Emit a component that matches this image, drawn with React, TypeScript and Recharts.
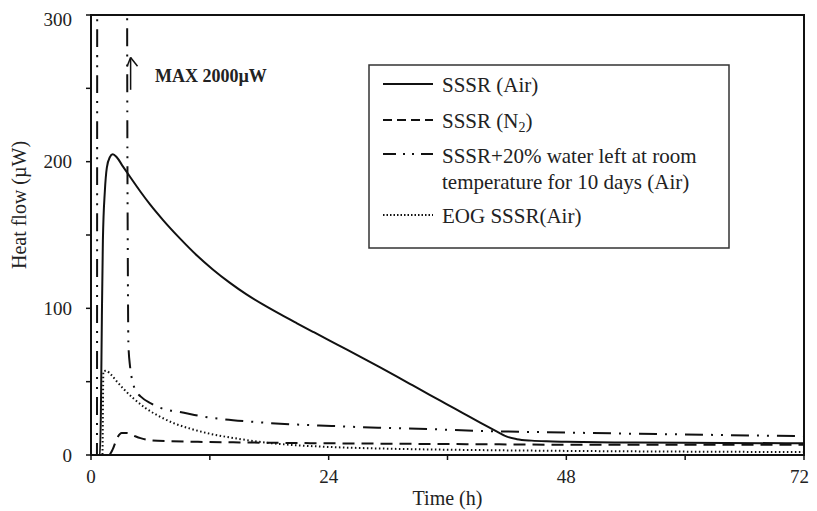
import React from 'react';
import {
  LineChart,
  Line,
  XAxis,
  YAxis,
  Legend,
  ReferenceArea,
  ReferenceLine,
  ReferenceDot
} from 'recharts';

// time (h) / heat flow (µW) pairs
const airTime = [0, 0.9, 1.0, 1.1, 1.2, 1.4, 1.6, 1.9, 2.2, 2.6, 3.2, 3.94, 5, 6, 7.3, 9, 10.7, 12.3, 14, 15.7, 17.4, 19.1, 20.8, 22.5, 24.1, 25.8, 27.5, 29.2, 30.9, 32.5, 34.2, 35.9, 37.6, 39.3, 41, 42, 43, 44.5, 46, 48, 55, 60, 72];
const airFlow = [0, 0, 30, 95, 146, 180, 196, 203, 205, 203, 197, 189.7, 179.5, 170.5, 160, 147.5, 136, 126.5, 117.5, 109.5, 102.5, 96, 89.8, 83.7, 78, 72, 65.9, 59.7, 53.4, 47.4, 41, 34.7, 28.4, 22.1, 16, 12.5, 10.8, 9.8, 9.3, 9, 8.5, 8.3, 8];

const n2Time = [0, 1.8, 2.2, 2.6, 3.1, 3.6, 4.2, 5, 6.1, 8, 10.8, 15, 20, 30, 40, 48, 60, 72];
const n2Flow = [0, 0, 4, 11, 15, 15, 13.5, 11.5, 10, 9.4, 9, 8.6, 8.2, 7.7, 7.3, 7, 7, 7];

const waterTime = [0, 0.6, 0.7, 3.55, 3.65, 3.72, 3.78, 3.95, 4.2, 4.5, 5, 6.1, 7.5, 8.8, 11.5, 16.2, 20, 24.3, 29, 34, 40, 48, 55, 60, 72];
const waterFlow = [0, 0, 2000, 2000, 300, 130, 75, 60, 50, 44, 40, 35, 31, 29.5, 26, 22.7, 21, 19.8, 18.6, 17.7, 16.3, 15.3, 14.5, 14, 12.8];

const eogTime = [0, 1.15, 1.25, 1.5, 2, 2.5, 3.4, 4.3, 5.5, 7, 8.5, 10, 12, 14, 17, 18, 20, 24, 30, 40, 48, 60, 72];
const eogFlow = [0, 0, 57, 57.5, 55, 51, 44.3, 38.5, 32, 26, 21.3, 18, 14.5, 12, 9, 8.2, 7, 5.5, 4.3, 3.3, 2.8, 2.3, 2];

const xTicks = [0, 12, 24, 36, 48, 60, 72];
const yTicks = [0, 50, 100, 150, 200, 250, 300];

const toPoints = (t: number[], v: number[]) => t.map((x, i) => ({ t: x, v: v[i] }));

const FONT = '"Liberation Serif", "Times New Roman", serif';
const INK = '#111';

const LegendBox = () => (
  <svg width={362} height={185} style={{ display: 'block' }}>
    <rect x={1} y={1} width={360} height={183} fill="#fff" stroke="#333" strokeWidth={1.5} />
    <g stroke={INK} strokeWidth={2}>
      <line x1={15} x2={65} y1={20} y2={20} />
      <line x1={15} x2={65} y1={56} y2={56} strokeDasharray="9 5" />
      <line x1={15} x2={65} y1={90} y2={90} strokeDasharray="13 7 2 7 2 7 13" />
      <line x1={15} x2={65} y1={151} y2={151} strokeDasharray="1.5 2" />
    </g>
    <g fontFamily={FONT} fontSize={21} fill="#222">
      <text x={74} y={28}>SSSR (Air)</text>
      <text x={74} y={64}>
        SSSR (N<tspan dy={4} fontSize={14}>2</tspan><tspan dy={-4}>)</tspan>
      </text>
      <text x={74} y={99}>SSSR+20% water left at room</text>
      <text x={74} y={125}>temperature for 10 days (Air)</text>
      <text x={74} y={159}>EOG SSSR(Air)</text>
    </g>
  </svg>
);

export default function App() {
  return (
    <LineChart
      width={801}
      height={503}
      margin={{ top: 7, right: 5, left: 23, bottom: 16 }}
      style={{ background: '#fff' }}
    >
      <XAxis
        dataKey="t"
        type="number"
        domain={[0, 72]}
        ticks={xTicks}
        tickFormatter={(v: number) => (v % 24 === 0 ? String(v) : '')}
        height={40}
        tickSize={5}
        tickMargin={10}
        axisLine={{ stroke: INK, strokeWidth: 2 }}
        tickLine={{ stroke: INK, strokeWidth: 1.5 }}
        tick={{ fontFamily: FONT, fontSize: 19, fill: '#222' }}
        allowDataOverflow
        label={({ viewBox }: any) => (
          <text
            x={viewBox.x + viewBox.width / 2}
            y={viewBox.y + 50}
            textAnchor="middle"
            fontFamily={FONT}
            fontSize={20}
            fill="#222"
          >
            Time (h)
          </text>
        )}
      />
      <YAxis
        type="number"
        domain={[0, 300]}
        ticks={yTicks}
        tickFormatter={(v: number) => (v % 100 === 0 ? String(v) : '')}
        width={60}
        tickSize={5}
        tickMargin={14}
        axisLine={{ stroke: INK, strokeWidth: 2 }}
        tickLine={{ stroke: INK, strokeWidth: 1.5 }}
        tick={{ fontFamily: FONT, fontSize: 19, fill: '#222' }}
        allowDataOverflow
        label={({ viewBox }: any) => {
          const cx = viewBox.x - 12;
          const cy = viewBox.y + viewBox.height / 2 - 30;
          return (
            <text
              x={cx}
              y={cy}
              transform={`rotate(-90 ${cx} ${cy})`}
              textAnchor="middle"
              dominantBaseline="central"
              fontFamily={FONT}
              fontSize={20}
              fill="#222"
            >
              Heat flow (µW)
            </text>
          );
        }}
      />
      <ReferenceArea x1={0} x2={72} y1={0} y2={300} fill="none" stroke={INK} strokeWidth={2} />
      <Line
        data={toPoints(airTime, airFlow)}
        dataKey="v"
        type="monotone"
        stroke={INK}
        strokeWidth={2}
        dot={false}
        isAnimationActive={false}
      />
      <Line
        data={toPoints(n2Time, n2Flow)}
        dataKey="v"
        type="monotone"
        stroke={INK}
        strokeWidth={2}
        strokeDasharray="12 7"
        dot={false}
        isAnimationActive={false}
      />
      <Line
        data={toPoints(waterTime, waterFlow)}
        dataKey="v"
        type="monotone"
        stroke={INK}
        strokeWidth={2}
        strokeDasharray="18 8 2 8 2 8"
        dot={false}
        isAnimationActive={false}
      />
      <Line
        data={toPoints(eogTime, eogFlow)}
        dataKey="v"
        type="monotone"
        stroke={INK}
        strokeWidth={2}
        strokeDasharray="1.5 2.5"
        dot={false}
        isAnimationActive={false}
      />
      <ReferenceLine segment={[{ x: 4.0, y: 249 }, { x: 4.0, y: 271 }]} stroke={INK} strokeWidth={1.5} />
      <ReferenceLine segment={[{ x: 4.0, y: 271 }, { x: 3.65, y: 265 }]} stroke={INK} strokeWidth={1.5} />
      <ReferenceLine segment={[{ x: 4.0, y: 271 }, { x: 4.7, y: 265 }]} stroke={INK} strokeWidth={1.5} />
      <ReferenceDot
        x={6.46}
        y={254}
        r={0}
        fill="none"
        stroke="none"
        label={({ viewBox }: any) => (
          <text x={viewBox.x} y={viewBox.y} fontFamily={FONT} fontSize={18} fontWeight="bold" fill="#222">
            MAX 2000µW
          </text>
        )}
      />
      <Legend
        layout="vertical"
        align="center"
        verticalAlign="middle"
        wrapperStyle={{ top: 56, left: 360, width: 362, height: 185 }}
        content={() => <LegendBox />}
      />
    </LineChart>
  );
}
